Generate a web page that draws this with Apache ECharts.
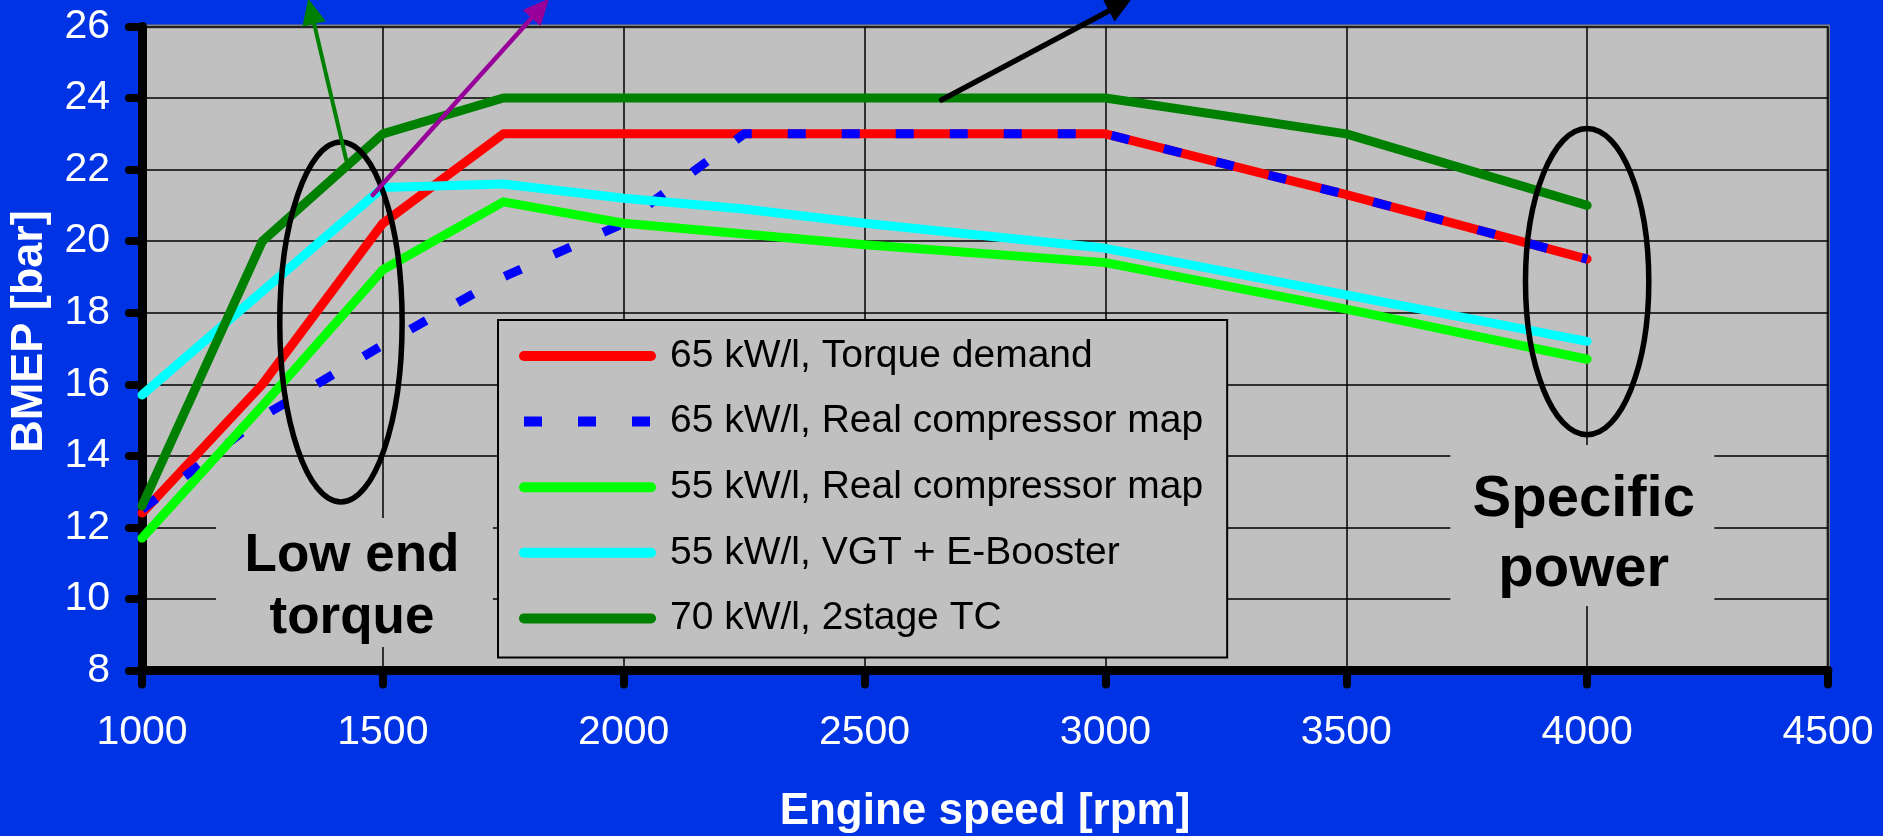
<!DOCTYPE html>
<html>
<head>
<meta charset="utf-8">
<script src="https://cdn.jsdelivr.net/npm/echarts@6/dist/echarts.min.js"></script>
<style>
html,body{margin:0;padding:0;background:#0033E3;}
#chart{width:1883px;height:836px;}
</style>
</head>
<body>
<div id="chart"></div>
<script>
// ---- data ----
const rpm = [1000, 1250, 1500, 1750, 2000, 2250, 2500, 3000, 3500, 4000];
const torqueDemand65 = [12.4, 16.0, 20.5, 23.0, 23.0, 23.0, 23.0, 23.0, 21.3, 19.5];
const realMap65      = [12.5, 15.1, 17.1, 19.0, 20.5, 23.0, 23.0, 23.0, 21.3, 19.5];
const realMap55      = [11.7, 15.4, 19.2, 21.1, 20.5, 20.2, 19.9, 19.4, 18.1, 16.7];
const vgtEBooster55  = [15.7, 18.6, 21.5, 21.6, 21.2, 20.9, 20.5, 19.8, 18.5, 17.2];
const twoStage70     = [12.6, 20.0, 23.0, 24.0, 24.0, 24.0, 24.0, 24.0, 23.0, 21.0];
const seriesNames = [
  '65 kW/l, Torque demand',
  '65 kW/l, Real compressor map',
  '55 kW/l, Real compressor map',
  '55 kW/l, VGT + E-Booster',
  '70 kW/l, 2stage TC'
];
const xAxisName = 'Engine speed [rpm]';
const yAxisName = 'BMEP [bar]';

// annotations (data coordinates)
const ellipseNotes = [
  { center: [1413, 17.74], rx: 127, ry: 5.03 },
  { center: [4000, 18.87], rx: 128, ry: 4.28 }
];
const arrowNotes = [
  { from: [1424, 22.27], to: [1345, 26.78], color: '#008000', width: 4 },
  { from: [1479, 21.29], to: [1845, 26.78], color: '#990099', width: 4.5 },
  { from: [2660, 23.95], to: [3055, 26.78], color: '#000000', width: 5.5 }
];
const textNotes = [
  { text: 'Low end\ntorque', at: [1436, 10.32], size: 53, lh: 62, boxAt: [1441, 10.46], box: [277, 129] },
  { text: 'Specific\npower', at: [3993, 11.78], size: 58, lh: 70, boxAt: [3990, 12.05], box: [264, 161] }
];

// ---- chart ----
const FONT = '"Liberation Sans", Arial, sans-serif';
const colors = ['#FF0000', '#0000FF', '#00FF00', '#00FFFF', '#008000'];
const values = [torqueDemand65, realMap65, realMap55, vgtEBooster55, twoStage70];

const chart = echarts.init(document.getElementById('chart'), null, { renderer: 'canvas' });

const series = seriesNames.map((name, i) => ({
  name: name,
  type: 'line',
  symbol: 'none',
  showSymbol: false,
  animation: false,
  data: rpm.map((r, k) => [r, values[i][k]]),
  lineStyle: {
    color: colors[i],
    width: 9,
    type: i === 1 ? [18, 36] : 'solid',
    cap: i === 1 ? 'butt' : 'round',
    join: 'round'
  },
  itemStyle: { color: colors[i] },
  emphasis: { disabled: true }
}));

chart.setOption({
  backgroundColor: '#0033E3',
  animation: false,
  textStyle: { fontFamily: FONT },
  grid: {
    left: 142, right: 55, top: 26.5, bottom: 165.5,
    outerBoundsMode: 'none', containLabel: false,
    show: true, backgroundColor: '#C0C0C0', borderColor: '#808080', borderWidth: 4
  },
  xAxis: {
    type: 'value', min: 1000, max: 4500, interval: 500,
    name: xAxisName, nameLocation: 'middle', nameGap: 119,
    nameTextStyle: { color: '#fff', fontSize: 44, fontWeight: 'bold', fontFamily: FONT },
    axisLine: { show: true, onZero: false, lineStyle: { color: '#000', width: 9 } },
    axisTick: { show: true, length: 14, lineStyle: { color: '#000', width: 8, cap: 'round' } },
    axisLabel: { color: '#fff', fontSize: 41, margin: 42, fontFamily: FONT, formatter: v => String(v) },
    splitLine: { show: true, lineStyle: { color: '#000', width: 1.5 } }
  },
  yAxis: {
    type: 'value', min: 8, max: 26, interval: 2,
    name: yAxisName, nameLocation: 'middle', nameRotate: 90, nameGap: 90,
    nameTextStyle: { color: '#fff', fontSize: 45, fontWeight: 'bold', fontFamily: FONT, padding: [0, 0, 0, 34] },
    axisLine: { show: true, lineStyle: { color: '#000', width: 9 } },
    axisTick: { show: true, length: 13, lineStyle: { color: '#000', width: 8, cap: 'round' } },
    axisLabel: { color: '#fff', fontSize: 41, margin: 32, fontFamily: FONT, formatter: v => String(v) },
    splitLine: { show: true, lineStyle: { color: '#000', width: 1.5 } }
  },
  legend: {
    orient: 'vertical',
    left: 498, top: 320,
    padding: [16, 24, 19, 21],
    itemGap: 25.6,
    itemWidth: 127,
    itemHeight: 40,
    backgroundColor: '#C0C0C0',
    borderColor: '#000',
    borderWidth: 2,
    borderRadius: 0,
    selectedMode: false,
    lineStyle: { width: 10 },
    itemStyle: { opacity: 0 },
    textStyle: { color: '#000', fontSize: 39, fontFamily: FONT, lineHeight: 40, padding: [0, 0, 0, 14] },
    data: seriesNames
  },
  series: series
});

// ---- annotations placed through the chart's own coordinate conversion ----
function px(p) { return chart.convertToPixel({ xAxisIndex: 0, yAxisIndex: 0 }, p); }
const graphics = [];

textNotes.forEach(t => {
  const b = px(t.boxAt);
  const c = px(t.at);
  graphics.push({
    type: 'rect', z: 1, silent: true,
    shape: { x: b[0] - t.box[0] / 2, y: b[1] - t.box[1] / 2, width: t.box[0], height: t.box[1] },
    style: { fill: '#C0C0C0' }
  });
  graphics.push({
    type: 'text', z: 10, silent: true,
    x: c[0], y: c[1],
    style: {
      text: t.text, fill: '#000',
      font: 'bold ' + t.size + 'px "Liberation Sans", Arial, sans-serif',
      align: 'center', verticalAlign: 'middle', lineHeight: t.lh,
      textShadowColor: '#FFFFFF', textShadowOffsetX: 2, textShadowOffsetY: 2, textShadowBlur: 0
    }
  });
});

ellipseNotes.forEach(e => {
  const c = px(e.center);
  const cx2 = px([e.center[0] + e.rx, e.center[1] + e.ry]);
  graphics.push({
    type: 'ellipse', z: 10, silent: true,
    shape: { cx: c[0], cy: c[1], rx: Math.abs(cx2[0] - c[0]), ry: Math.abs(cx2[1] - c[1]) },
    style: { fill: null, stroke: '#000', lineWidth: 5.5 }
  });
});

arrowNotes.forEach(a => {
  const p0 = px(a.from), p1 = px(a.to);
  const dx = p1[0] - p0[0], dy = p1[1] - p0[1];
  const len = Math.sqrt(dx * dx + dy * dy);
  const ux = dx / len, uy = dy / len;
  const headLen = 26, headW = 24;
  const bx = p1[0] - ux * headLen, by = p1[1] - uy * headLen;
  graphics.push({
    type: 'line', z: 10, silent: true,
    shape: { x1: p0[0], y1: p0[1], x2: bx, y2: by },
    style: { stroke: a.color, lineWidth: a.width, lineCap: 'round' }
  });
  graphics.push({
    type: 'polygon', z: 10, silent: true,
    shape: { points: [[p1[0], p1[1]], [bx - uy * headW / 2, by + ux * headW / 2], [bx + uy * headW / 2, by - ux * headW / 2]] },
    style: { fill: a.color }
  });
});

chart.setOption({ graphic: graphics });
</script>
</body>
</html>
